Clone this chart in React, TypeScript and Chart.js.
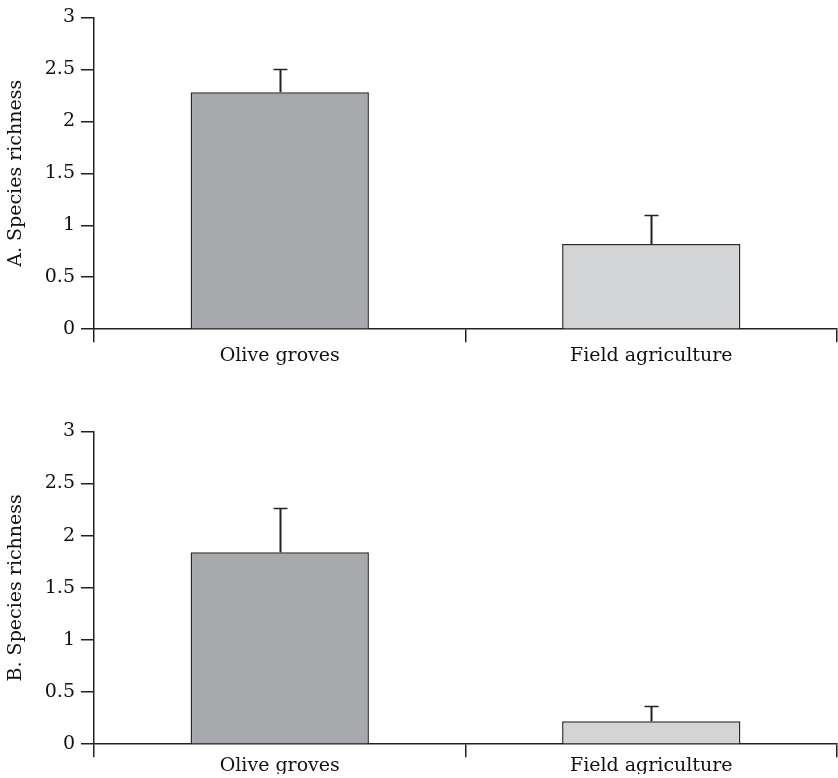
import React, { useEffect, useRef } from "react";
import { Chart, registerables } from "chart.js";

Chart.register(...registerables);

const categories = ["Olive groves", "Field agriculture"];
const panelATitle = "A. Species richness";
const panelAMeans = [2.28, 0.82];
const panelAErrTops = [2.5, 1.1];
const panelBTitle = "B. Species richness";
const panelBMeans = [1.84, 0.22];
const panelBErrTops = [2.27, 0.37];
const yTicks = [0, 0.5, 1, 1.5, 2, 2.5, 3];
const barColors = ["#a7a8ab", "#d3d4d6"];

const FONT = "'DejaVu Serif', serif";
const INK = "#222222";

const errorBarPlugin = {
  id: "errorBars",
  afterDatasetsDraw(chart: any) {
    const ctx = chart.ctx;
    const meta = chart.getDatasetMeta(0);
    const tops: number[] = chart.options.plugins.errorBars.tops;
    const yScale = chart.scales.y;
    ctx.save();
    ctx.strokeStyle = INK;
    meta.data.forEach((bar: any, i: number) => {
      const x = Math.round(bar.x) + 0.5;
      const y0 = bar.y;
      const y1 = Math.round(yScale.getPixelForValue(tops[i])) + 0.5;
      ctx.lineWidth = 2;
      ctx.beginPath();
      ctx.moveTo(x, y0);
      ctx.lineTo(x, y1);
      ctx.stroke();
      ctx.lineWidth = 1.5;
      ctx.beginPath();
      ctx.moveTo(x - 7, y1);
      ctx.lineTo(x + 7, y1);
      ctx.stroke();
    });
    ctx.restore();
  },
};

function Panel({
  title,
  means,
  tops,
  top,
  labelPad,
  bottomPad,
}: {
  title: string;
  means: number[];
  tops: number[];
  top: number;
  labelPad: number;
  bottomPad: number;
}) {
  const ref = useRef<HTMLCanvasElement>(null);
  useEffect(() => {
    if (!ref.current) return;
    const chart = new Chart(ref.current, {
      type: "bar",
      data: {
        labels: categories,
        datasets: [
          {
            data: means,
            backgroundColor: barColors,
            borderColor: "#2a2a2a",
            borderWidth: 1.5,
            categoryPercentage: 1,
            barPercentage: 0.48,
          },
        ],
      },
      plugins: [errorBarPlugin],
      options: {
        animation: false,
        responsive: false,
        devicePixelRatio: 1,
        layout: { padding: { top: 13, right: 1, left: 0, bottom: bottomPad } },
        plugins: {
          legend: { display: false },
          tooltip: { enabled: false },
          // @ts-ignore
          errorBars: { tops },
        },
        scales: {
          x: {
            type: "category",
            offset: true,
            grid: {
              offset: true,
              drawOnChartArea: false,
              drawTicks: true,
              tickLength: 13,
              color: INK,
              lineWidth: 1.5,
            },
            border: { display: true, color: INK, width: 1.5 },
            ticks: {
              color: "#111111",
              font: { family: FONT, size: 19 },
              padding: labelPad,
              maxRotation: 0,
            },
          },
          y: {
            min: 0,
            max: 3,
            afterBuildTicks: (axis: any) => {
              axis.ticks = yTicks.map((v) => ({ value: v }));
            },
            afterFit: (axis: any) => {
              axis.width = 94;
            },
            grid: {
              drawOnChartArea: false,
              drawTicks: true,
              tickLength: 13,
              color: INK,
              lineWidth: 1.5,
            },
            border: { display: true, color: INK, width: 1.5 },
            ticks: {
              color: "#111111",
              font: { family: FONT, size: 19 },
              padding: 6,
              callback: (v: any) => String(v),
            },
            title: {
              display: true,
              text: title,
              color: "#111111",
              font: { family: FONT, size: 19 },
              padding: { top: 5, bottom: 0 },
            },
          },
        },
      },
    });
    return () => chart.destroy();
  }, []);
  return (
    <canvas
      ref={ref}
      width={838}
      height={389}
      style={{ position: "absolute", left: 0, top, width: 838, height: 389 }}
    />
  );
}

export default function App() {
  return (
    <div
      style={{
        position: "fixed",
        left: 0,
        top: 0,
        width: 838,
        height: 778,
        overflow: "hidden",
        background: "#ffffff",
      }}
    >
      <Panel title={panelATitle} means={panelAMeans} tops={panelAErrTops} top={0} labelPad={2} bottomPad={20} />
      <Panel title={panelBTitle} means={panelBMeans} tops={panelBErrTops} top={414} labelPad={-3} bottomPad={29} />
    </div>
  );
}
